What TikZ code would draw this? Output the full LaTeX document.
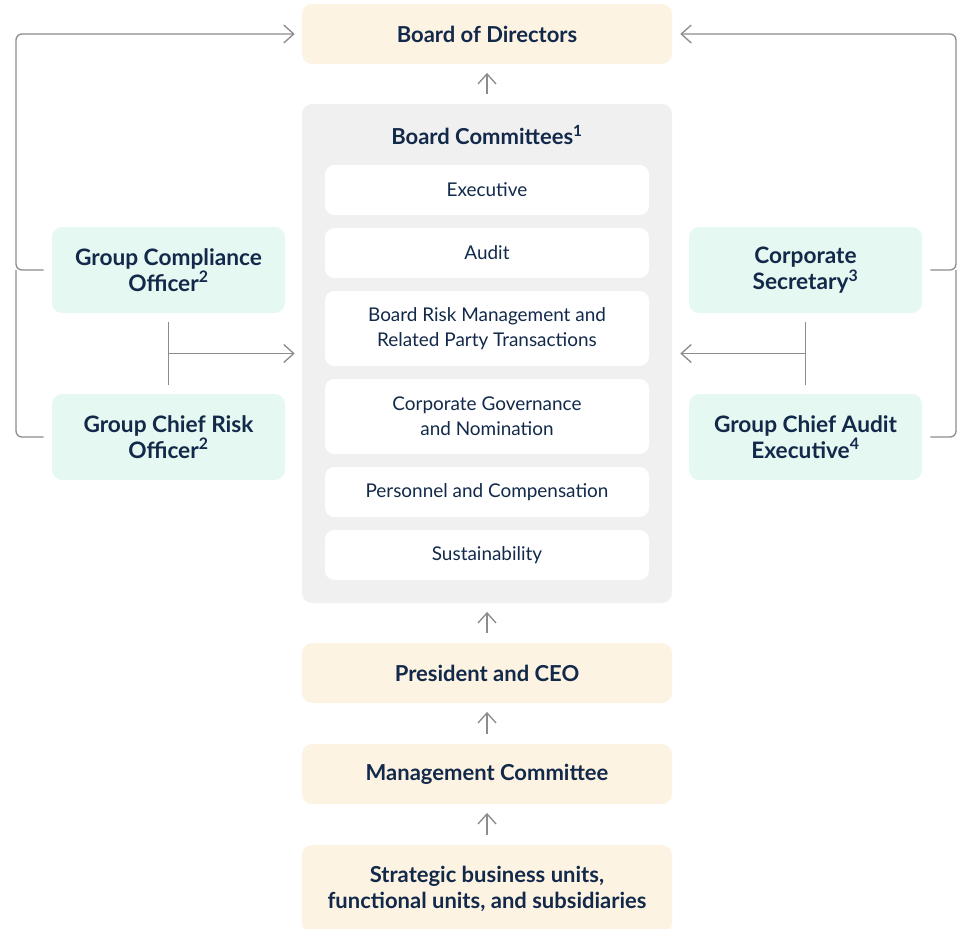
\documentclass[tikz,border=0pt]{standalone}
\usepackage{fontspec}
\setmainfont{Lato}
\usetikzlibrary{arrows.meta,calc}
\definecolor{navy}{HTML}{12294A}
\definecolor{creamc}{HTML}{FDF3E3}
\definecolor{mintc}{HTML}{E6F8F2}
\definecolor{panelc}{HTML}{F0F0F0}
\definecolor{linec}{HTML}{8C8C8C}
\begin{document}
\begin{tikzpicture}[x=0.75pt,y=-0.75pt,
  creambox/.style={fill=creamc, rounded corners=7.5pt, minimum width=277.5pt, minimum height=45pt, text=navy, font=\bfseries\fontsize{16.5}{19.5}\selectfont, align=center, inner sep=0pt},
  whitebox/.style={fill=white, rounded corners=7pt, minimum width=243pt, minimum height=37.5pt, text=navy, font=\fontsize{14.2}{18.75}\selectfont, align=center, inner sep=0pt},
  greenbox/.style={fill=mintc, rounded corners=7.5pt, minimum width=174.75pt, minimum height=64.5pt, text=navy, font=\bfseries\fontsize{17}{19.5}\selectfont, align=center, inner sep=0pt},
  conn/.style={draw=linec, line width=1pt, rounded corners=4.5pt},
  arr/.style={conn, -{Straight Barb[length=7.5pt,width=13.5pt,line width=1pt]}}
]
\useasboundingbox (0,0) rectangle (959,928);

% central column
\node[creambox] (board) at (487,34) {Board of Directors};
\node[fill=panelc, rounded corners=7.5pt, minimum width=277.5pt, minimum height=374.25pt, inner sep=0pt] (bc) at (487,353.5) {};
\node[text=navy, font=\bfseries\fontsize{16.5}{19.5}\selectfont] (bctitle) at (487,135) {Board Committees\textsuperscript{1}};
\node[whitebox] (exec) at (487,190) {Executive};
\node[whitebox] (audit) at (487,253) {Audit};
\node[whitebox, minimum height=56.25pt] (risk) at (487,328.5) {Board Risk Management and\\Related Party Transactions};
\node[whitebox, minimum height=56.25pt] (gov) at (487,416.5) {Corporate Governance\\and Nomination};
\node[whitebox] (pers) at (487,492) {Personnel and Compensation};
\node[whitebox] (sust) at (487,555) {Sustainability};
\node[creambox] (ceo) at (487,673) {President and CEO};
\node[creambox] (mc) at (487,774) {Management Committee};
\node[creambox, minimum height=66pt] (sbu) at (487,889) {Strategic business units,\\functional units, and subsidiaries};

% side boxes
\node[greenbox] (gco) at (168.5,270) {Group Compliance\\Officer\textsuperscript{2}};
\node[greenbox] (gcro) at (168.5,437) {Group Chief Risk\\Officer\textsuperscript{2}};
\node[greenbox] (cs) at (805.5,270) {Corporate\\Secretary\textsuperscript{3}};
\node[greenbox] (gcae) at (805.5,437) {Group Chief Audit\\Executive\textsuperscript{4}};

% vertical arrows
\draw[arr, shorten <=7.5pt, shorten >=6.5pt] (bc.north) -- (board.south);
\draw[arr, shorten <=7.5pt, shorten >=6.5pt] (ceo.north) -- (bc.south);
\draw[arr, shorten <=7.5pt, shorten >=6.5pt] (mc.north) -- (ceo.south);
\draw[arr, shorten <=7.5pt, shorten >=6.5pt] (sbu.north) -- (mc.south);

% left connectors
\coordinate (lout) at (16,0);
\coordinate (lm) at ($(gco.south)!0.5!(gcro.north)$);
\draw[conn] ($(gco.south)+(0,9)$) -- ($(gcro.north)+(0,-9)$);
\draw[arr] (lm) -- ($(bc.west |- lm)+(-7,0)$);
\draw[arr] ($(gco.west)+(-8,0)$) -- (lout |- gco.west) -- (lout |- board.west) -- ($(board.west)+(-7,0)$);
\draw[conn] ($(gcro.west)+(-8,0)$) -- (lout |- gcro.west) -- (lout |- gco.west);

% right connectors
\coordinate (rout) at (956,0);
\coordinate (rm) at ($(cs.south)!0.5!(gcae.north)$);
\draw[conn] ($(cs.south)+(0,9)$) -- ($(gcae.north)+(0,-9)$);
\draw[arr] (rm) -- ($(bc.east |- rm)+(8,0)$);
\draw[arr] ($(cs.east)+(8,0)$) -- (rout |- cs.east) -- (rout |- board.east) -- ($(board.east)+(8,0)$);
\draw[conn] ($(gcae.east)+(8,0)$) -- (rout |- gcae.east) -- (rout |- cs.east);
\end{tikzpicture}
\end{document}
